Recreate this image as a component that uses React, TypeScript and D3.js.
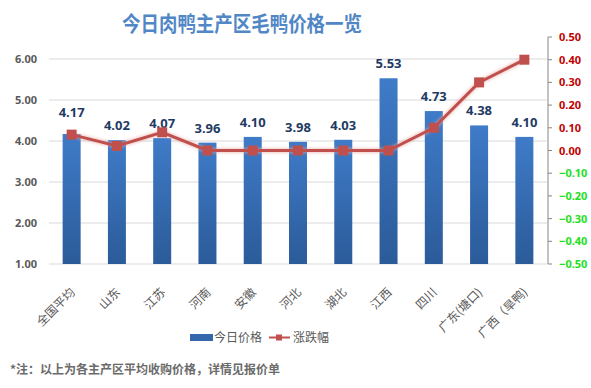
import * as d3 from "d3";

const categories = ["全国平均", "山东", "江苏", "河南", "安徽", "河北", "湖北", "江西", "四川", "广东(塘口)", "广西（旱鸭)"];
const prices = [4.17, 4.02, 4.07, 3.96, 4.1, 3.98, 4.03, 5.53, 4.73, 4.38, 4.1];
const changes = [0.07, 0.02, 0.08, 0, 0, 0, 0, 0, 0.1, 0.3, 0.4];
const leftTicks = [1, 2, 3, 4, 5, 6];
const rightTicks = [0.5, 0.4, 0.3, 0.2, 0.1, 0, -0.1, -0.2, -0.3, -0.4, -0.5];

const W = 591;
const H = 388;
const plotLeft = 49;
const plotRight = 547;

export default function App() {
  const band = d3.scaleBand<string>().domain(categories).range([plotLeft, plotRight]);
  const yL = d3.scaleLinear().domain([1, 6]).range([264, 59]);
  const yR = d3.scaleLinear().domain([-0.5, 0.5]).range([264, 37]);
  const fmt = d3.format(".2f");
  const cx = (c: string) => (band(c) as number) + band.bandwidth() / 2;
  const line = d3.line<number>().x((_, i) => cx(categories[i])).y(d => yR(d));
  const bw = 18;

  return (
    <svg width={W} height={H} style={{ position: "absolute", left: 0, top: 0, background: "#fff" }}>
      <defs>
        <linearGradient id="barGrad" x1="0" y1="0" x2="0" y2="1">
          <stop offset="0%" stopColor="#3f7bc8" />
          <stop offset="100%" stopColor="#2b5b99" />
        </linearGradient>
        <filter id="glow" x="-10%" y="-10%" width="120%" height="130%">
          <feGaussianBlur stdDeviation="1.5" />
        </filter>
      </defs>
      <text x={122} y={31} textLength={240} lengthAdjust="spacingAndGlyphs" fontFamily="'Noto Sans CJK SC'" fontWeight="bold" fontSize={21} fill="#5287c6">
        今日肉鸭主产区毛鸭价格一览
      </text>

      {leftTicks.map(t => (
        <g key={t}>
          <line x1={plotLeft} x2={plotRight} y1={yL(t)} y2={yL(t)} stroke="#d9d9d9" />
          <text x={37} y={yL(t) + 4} textAnchor="end" fontFamily="'Noto Sans'" fontWeight="bold" fontSize={11} fill="#595959">
            {fmt(t)}
          </text>
        </g>
      ))}

      {prices.map((v, i) => {
        const c = categories[i];
        return (
          <g key={c}>
            <rect x={cx(c) - bw / 2} y={yL(v)} width={bw} height={yL(1) - yL(v)} fill="url(#barGrad)" />
            <text x={cx(c)} y={yL(v) - (i === 0 ? 17 : 10)} textAnchor="middle" fontFamily="'Noto Sans'" fontWeight="bold" fontSize={13} fill="#1f3b63">
              {fmt(v)}
            </text>
          </g>
        );
      })}

      <path d={line(changes) as string} fill="none" stroke="#e8a8a6" strokeWidth={5} filter="url(#glow)" opacity={0.6} />
      <path d={line(changes) as string} fill="none" stroke="#c0504d" strokeWidth={3} />
      {changes.map((v, i) => (
        <rect key={i} x={cx(categories[i]) - 5} y={yR(v) - 5} width={10} height={10} fill="#c0504d" />
      ))}

      <line x1={plotRight + 1} x2={plotRight + 1} y1={yR(0.5)} y2={yR(-0.5)} stroke="#868686" />
      {rightTicks.map(t => (
        <g key={t}>
          <line x1={plotRight + 1} x2={plotRight + 5} y1={yR(t)} y2={yR(t)} stroke="#868686" />
          <text x={559} y={yR(t) + 4} fontFamily="'Noto Sans'" fontWeight="bold" fontSize={11} fill={t < 0 ? "#22e022" : "#c00000"}>
            {fmt(t)}
          </text>
        </g>
      ))}

      {categories.map(c => (
        <text key={c} transform={`translate(${cx(c) + 4},${293}) rotate(-45)`} textAnchor="end" fontFamily="'Noto Sans CJK SC'" fontSize={12} fill="#595959">
          {c}
        </text>
      ))}

      <rect x={190} y={334} width={23} height={7} fill="#3567ad" />
      <text x={214} y={342} fontFamily="'Noto Sans CJK SC'" fontSize={12} fill="#595959">今日价格</text>
      <line x1={269} x2={290} y1={337.5} y2={337.5} stroke="#c0504d" strokeWidth={2} />
      <rect x={276} y={334.5} width={6} height={6} fill="#c0504d" />
      <text x={293} y={342} fontFamily="'Noto Sans CJK SC'" fontSize={12} fill="#595959">涨跌幅</text>

      <text x={10} y={374} fontFamily="'Noto Sans CJK SC'" fontWeight="bold" fontSize={12} fill="#6b6b6b">
        *注：以上为各主产区平均收购价格，详情见报价单
      </text>
    </svg>
  );
}
